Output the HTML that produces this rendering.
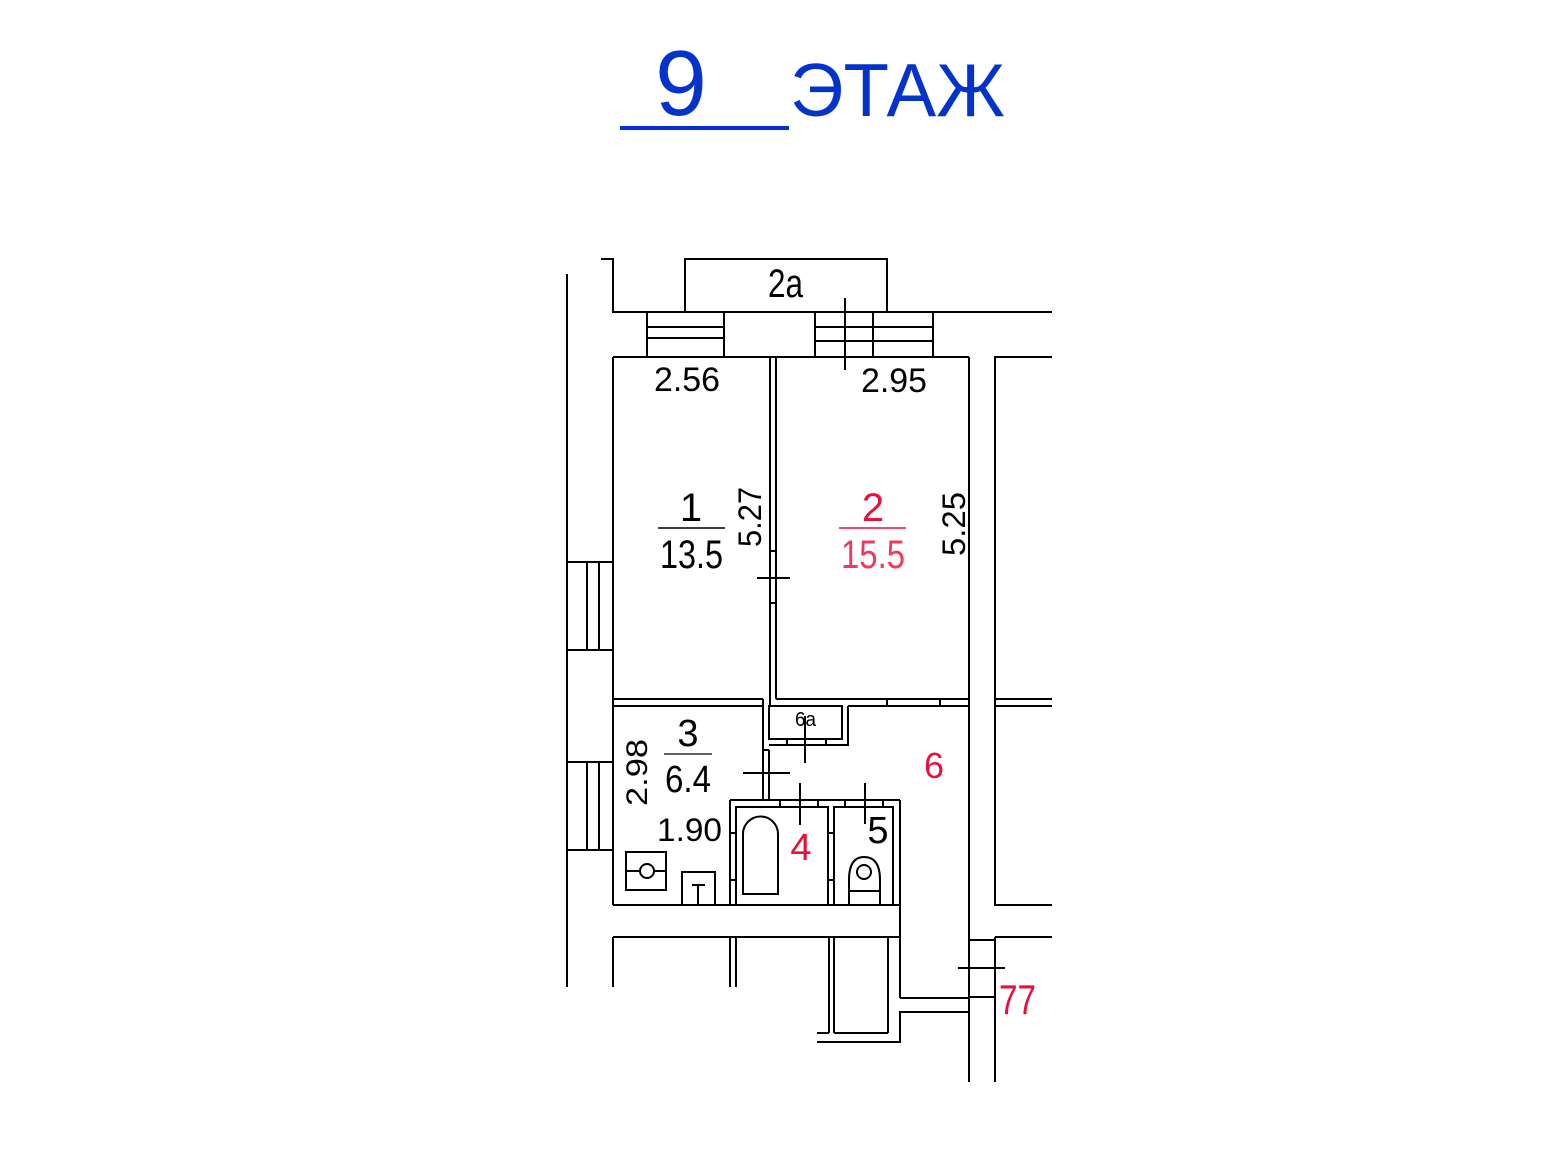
<!DOCTYPE html>
<html><head><meta charset="utf-8"><style>
html,body{margin:0;padding:0;background:#fff;}
svg{display:block;}
</style></head><body>
<svg width="1553" height="1165" viewBox="0 0 1553 1165" xmlns="http://www.w3.org/2000/svg" font-family="Liberation Sans, sans-serif">
<rect width="1553" height="1165" fill="#fff"/>
<!-- Title -->
<text x="681" y="115" font-size="93" fill="#0433cc" text-anchor="middle">9</text>
<rect x="620" y="126" width="169" height="4" fill="#0433cc"/>
<text x="790" y="116" font-size="75" fill="#0433cc" textLength="215" lengthAdjust="spacingAndGlyphs">ЭТАЖ</text>

<g stroke="#000" stroke-width="2" fill="none">
<line x1="567" y1="274" x2="567" y2="987"/>
<polyline points="601,259 613,259 613,312 1052,312"/>
<rect x="685" y="259" width="202" height="53"/>
<rect x="647" y="312" width="77" height="45"/>
<line x1="647" y1="327" x2="724" y2="327"/><line x1="647" y1="338" x2="724" y2="338"/>
<rect x="815" y="312" width="118" height="45"/>
<line x1="815" y1="327" x2="933" y2="327"/><line x1="815" y1="341" x2="933" y2="341"/>
<line x1="873" y1="312" x2="873" y2="357"/>
<line x1="845" y1="298" x2="845" y2="370"/>
<line x1="613" y1="357" x2="969" y2="357"/>
<line x1="613" y1="357" x2="613" y2="905"/>
<line x1="770" y1="357" x2="770" y2="706"/>
<line x1="776" y1="357" x2="776" y2="699"/>
<rect x="770" y="551" width="6" height="52"/>
<line x1="757" y1="578" x2="790" y2="578"/>
<line x1="969" y1="357" x2="969" y2="1082"/>
<polyline points="1052,357 995,357 995,905 1052,905"/>
<line x1="995" y1="699" x2="1052" y2="699"/>
<line x1="995" y1="706" x2="1052" y2="706"/>
<rect x="567" y="562" width="46" height="88"/>
<line x1="587" y1="562" x2="587" y2="650"/><line x1="599" y1="562" x2="599" y2="650"/>
<rect x="567" y="762" width="46" height="88"/>
<line x1="587" y1="762" x2="587" y2="850"/><line x1="599" y1="762" x2="599" y2="850"/>
<line x1="613" y1="699" x2="763" y2="699"/>
<line x1="776" y1="699" x2="969" y2="699"/>
<line x1="613" y1="706" x2="763" y2="706"/>
<line x1="848" y1="706" x2="969" y2="706"/>
<line x1="887" y1="699" x2="887" y2="706"/><line x1="940" y1="699" x2="940" y2="706"/>
<line x1="763" y1="699" x2="763" y2="800"/>
<line x1="769" y1="750" x2="769" y2="800"/>
<line x1="763" y1="750" x2="769" y2="750"/>
<line x1="743" y1="773" x2="790" y2="773"/>
<rect x="769" y="706" width="73" height="33"/>
<polyline points="848,706 848,745 769,745"/>
<rect x="787" y="739" width="39" height="6"/>
<line x1="805" y1="716" x2="805" y2="763"/>
<line x1="730" y1="800" x2="900" y2="800"/>
<line x1="730" y1="800" x2="730" y2="905"/>
<line x1="900" y1="800" x2="900" y2="998"/>
<rect x="736" y="807" width="92" height="98"/>
<rect x="834" y="807" width="59" height="98"/>
<rect x="780" y="800" width="38" height="7"/>
<rect x="845" y="800" width="38" height="7"/>
<line x1="800" y1="783" x2="800" y2="825"/>
<line x1="865" y1="783" x2="865" y2="824"/>
<rect x="730" y="833" width="6" height="47"/>
<rect x="828" y="833" width="6" height="47"/>
<path d="M743,894 V834 A17,17 0 0 1 778,834 V894 Z"/>
<path d="M849,905 V880 Q849,857 864,857 Q880,857 880,880 V905"/>
<circle cx="864" cy="872" r="7"/>
<line x1="849" y1="891" x2="880" y2="891"/>
<rect x="626" y="852" width="40" height="38"/>
<line x1="626" y1="871" x2="640" y2="871"/><line x1="654" y1="871" x2="666" y2="871"/>
<circle cx="647" cy="871" r="7"/>
<rect x="682" y="872" width="33" height="33"/>
<line x1="692" y1="885" x2="705" y2="885"/><line x1="698" y1="885" x2="698" y2="905"/>
<line x1="613" y1="905" x2="900" y2="905"/>
<line x1="613" y1="937" x2="900" y2="937"/>
<line x1="613" y1="937" x2="613" y2="987"/>
<line x1="730" y1="937" x2="730" y2="987"/>
<line x1="736" y1="937" x2="736" y2="987"/>
<line x1="829" y1="937" x2="829" y2="1033"/>
<line x1="834" y1="937" x2="834" y2="1033"/>
<line x1="888" y1="937" x2="888" y2="1033"/>
<line x1="834" y1="1033" x2="888" y2="1033"/>
<line x1="817" y1="1033" x2="829" y2="1033"/>
<line x1="900" y1="998" x2="969" y2="998"/>
<polyline points="969,1012 900,1012 900,1042 817,1042"/>
<line x1="995" y1="937" x2="995" y2="1082"/>
<line x1="969" y1="940" x2="995" y2="940"/>
<line x1="995" y1="937" x2="1052" y2="937"/>
<line x1="969" y1="997" x2="995" y2="997"/>
<line x1="958" y1="968" x2="1005" y2="968"/>
</g>
<line x1="658" y1="528" x2="725" y2="528" stroke="#000" stroke-width="1.5"/>
<line x1="839" y1="528" x2="906" y2="528" stroke="#e8103c" stroke-width="1.5"/>
<line x1="664" y1="754" x2="712" y2="754" stroke="#000" stroke-width="1.2"/>

<g font-size="34" fill="#000" lengthAdjust="spacingAndGlyphs">
<text x="768" y="297" font-size="40" textLength="35" lengthAdjust="spacingAndGlyphs">2a</text>
<text x="654" y="391" textLength="66" lengthAdjust="spacingAndGlyphs">2.56</text>
<text x="861" y="392" textLength="66" lengthAdjust="spacingAndGlyphs">2.95</text>
<text x="691" y="521" text-anchor="middle" font-size="40">1</text>
<text x="660" y="568" font-size="40" textLength="63" lengthAdjust="spacingAndGlyphs">13.5</text>
<text transform="translate(761,547) rotate(-90)" font-size="32" textLength="60" lengthAdjust="spacingAndGlyphs">5.27</text>
<text transform="translate(965,556) rotate(-90)" font-size="32" textLength="64" lengthAdjust="spacingAndGlyphs">5.25</text>
<text x="688" y="746" text-anchor="middle" font-size="38">3</text>
<text x="665" y="792" font-size="38" textLength="46" lengthAdjust="spacingAndGlyphs">6.4</text>
<text transform="translate(647,806) rotate(-90)" font-size="30" textLength="67" lengthAdjust="spacingAndGlyphs">2.98</text>
<text x="657" y="841" font-size="32" textLength="65" lengthAdjust="spacingAndGlyphs">1.90</text>
<text x="795" y="726" font-size="20" textLength="21" lengthAdjust="spacingAndGlyphs">6a</text>
<text x="878" y="843" text-anchor="middle" font-size="38">5</text>
</g>
<g fill="#e8103c" text-anchor="middle">
<text x="873" y="521" font-size="40">2</text>
<text x="841" y="568" font-size="40" fill="#ee3a5c" text-anchor="start" textLength="64" lengthAdjust="spacingAndGlyphs">15.5</text>
<text x="934" y="778" font-size="36">6</text>
<text x="801" y="860" font-size="38">4</text>
<text x="999" y="1014" font-size="42" text-anchor="start" textLength="37" lengthAdjust="spacingAndGlyphs">77</text>
</g>
</svg>
</body></html>
